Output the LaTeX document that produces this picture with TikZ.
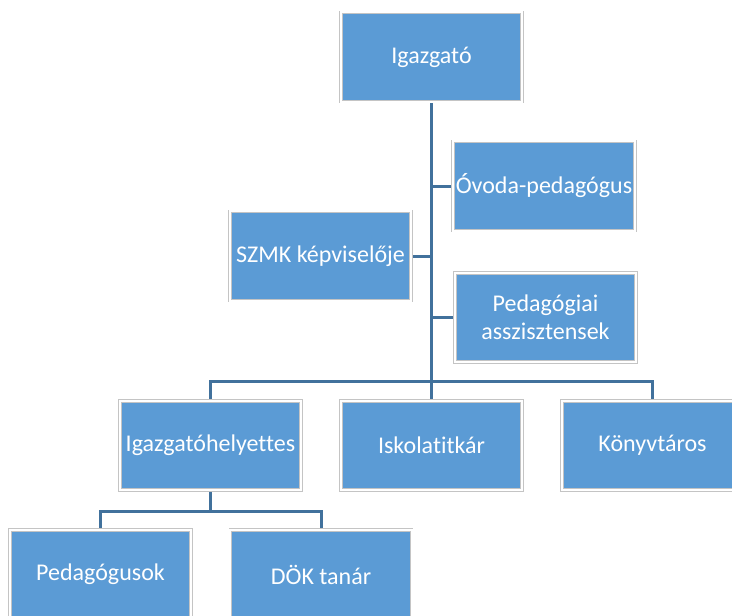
\documentclass[tikz,border=0pt]{standalone}
\usepackage{fontspec}
\setmainfont{Carlito}[Ligatures=NoCommon]
\usetikzlibrary{backgrounds}
\definecolor{boxblue}{HTML}{5B9BD5}
\definecolor{linkblue}{HTML}{41719C}
\definecolor{rimgray}{HTML}{C4C4C4}
\tikzset{
  orgbox/.style={rectangle, fill=boxblue, draw=rimgray, double=white,
    double distance=1.5pt, line width=0.6pt, minimum width=136pt,
    minimum height=67pt, inner sep=2pt, outer sep=0pt, text=white,
    align=center, font=\fontsize{18pt}{21pt}\selectfont},
  link/.style={draw=linkblue, line width=2.25pt}
}
\begin{document}
\begin{tikzpicture}[x=0.75pt, y=-0.75pt]
\useasboundingbox (0,0) rectangle (732,615);
\clip (0,0) rectangle (732,615);
\node[orgbox] (top) at (431.5,57) {Igazgató};
\node[orgbox] (ovoda) at (544,186) {Óvoda-pedagógus};
\node[orgbox] (szmk) at (320.5,256) {SZMK képviselője};
\node[orgbox] (assz) at (545.5,317.5) {Pedagógiai\\asszisztensek};
\node[orgbox] (igh) at (210.5,445.5) {Igazgatóhelyettes};
\node[orgbox] (isk) at (431.5,445.5) {Iskolatitkár};
\node[orgbox] (konyv) at (652.5,445.5) {Könyvtáros};
\node[orgbox] (ped) at (100.5,574.5) {Pedagógusok};
\node[orgbox] (dok) at (321,574.5) {DÖK tanár};
\coordinate (bar) at (431.5,381);
\coordinate (bar2) at (210.5,511);
\begin{scope}[on background layer]
\draw[link] (top.south) -- (isk.north);
\draw[link] (ovoda.west) -- (ovoda.west -| top.south);
\draw[link] (szmk.east) -- (szmk.east -| top.south);
\draw[link] (assz.west) -- (assz.west -| top.south);
\draw[link] (igh.north) |- (bar) -| (konyv.north);
\draw[link] (igh.south) -- (bar2);
\draw[link] (ped.north) |- (bar2) -| (dok.north);
\end{scope}
\end{tikzpicture}
\end{document}
